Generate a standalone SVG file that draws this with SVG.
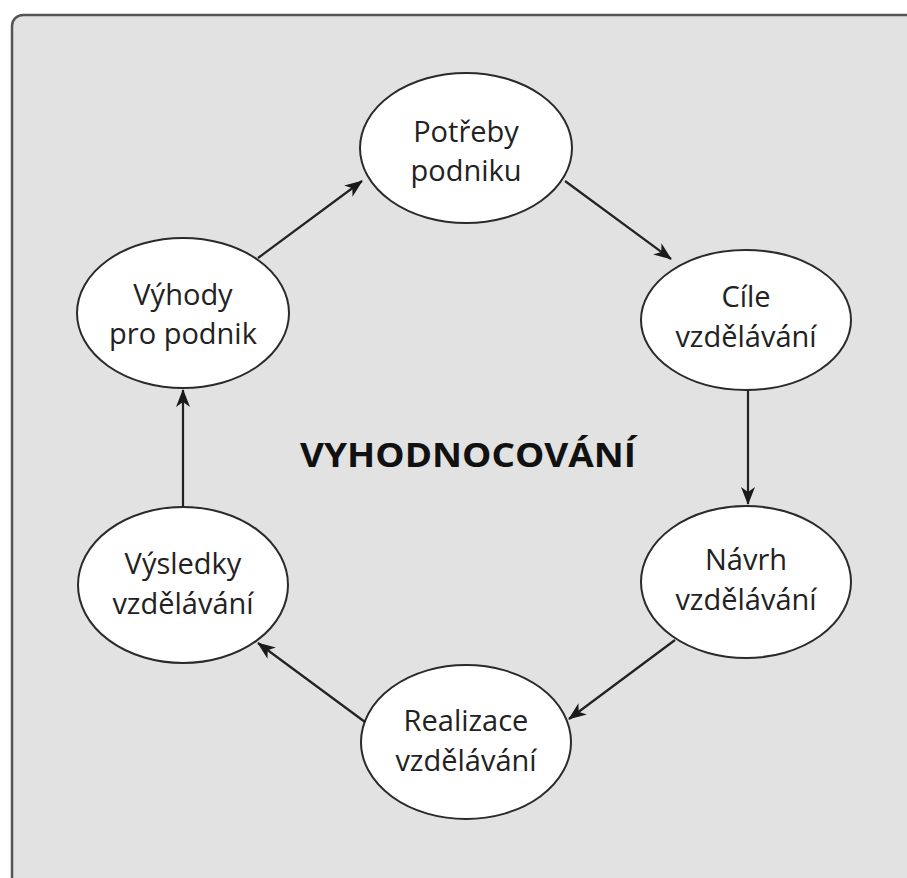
<svg xmlns="http://www.w3.org/2000/svg" width="907" height="878" viewBox="0 0 907 878">
<defs>
<marker id="ah" viewBox="0 0 18 14" refX="17" refY="7" markerWidth="18" markerHeight="14" markerUnits="userSpaceOnUse" orient="auto">
<path d="M0,0 L18,7 L0,14 L5,7 Z" fill="#1a1a1a"/>
</marker>
<style>
.n{fill:#ffffff;stroke:#2a2a2a;stroke-width:2}
.t{font-family:"Open Sans","Noto Sans",sans-serif;font-size:29px;fill:#222;text-anchor:middle}
.c{stroke:#222;stroke-width:2.2;fill:none;marker-end:url(#ah)}
</style>
</defs>
<rect x="0" y="0" width="907" height="878" fill="#ffffff"/>
<rect x="12" y="15" width="920" height="900" rx="11" fill="#e2e2e2" stroke="#555" stroke-width="2.5"/>
<g id="potreby"><ellipse class="n" cx="466" cy="148" rx="106" ry="75"/><text class="t" x="466" y="142">Potřeby</text><text class="t" x="466" y="181">podniku</text></g>
<g id="cile"><ellipse class="n" cx="746" cy="320" rx="105" ry="70"/><text class="t" x="746" y="307">Cíle</text><text class="t" x="746" y="347">vzdělávání</text></g>
<g id="navrh"><ellipse class="n" cx="746" cy="582" rx="105" ry="76"/><text class="t" x="746" y="570">Návrh</text><text class="t" x="746" y="610">vzdělávání</text></g>
<g id="realizace"><ellipse class="n" cx="466" cy="742" rx="105" ry="77"/><text class="t" x="466" y="731">Realizace</text><text class="t" x="466" y="771">vzdělávání</text></g>
<g id="vysledky"><ellipse class="n" cx="183" cy="585" rx="105" ry="78"/><text class="t" x="183" y="574">Výsledky</text><text class="t" x="183" y="614">vzdělávání</text></g>
<g id="vyhody"><ellipse class="n" cx="183" cy="313" rx="106" ry="75"/><text class="t" x="183" y="305">Výhody</text><text class="t" x="183" y="344">pro podnik</text></g>
<g id="center"><text x="468" y="467" font-family="'Open Sans','Noto Sans',sans-serif" font-weight="bold" font-size="34" fill="#111" text-anchor="middle" textLength="336" lengthAdjust="spacingAndGlyphs">VYHODNOCOVÁNÍ</text></g>
<g id="connectors">
<line class="c" x1="258" y1="258" x2="362" y2="181"/>
<line class="c" x1="565" y1="181" x2="671" y2="259"/>
<line class="c" x1="748" y1="390" x2="748" y2="504"/>
<line class="c" x1="675" y1="640" x2="569" y2="719"/>
<line class="c" x1="365" y1="722" x2="258" y2="643"/>
<line class="c" x1="183" y1="507" x2="183" y2="390"/>
</g>
</svg>
